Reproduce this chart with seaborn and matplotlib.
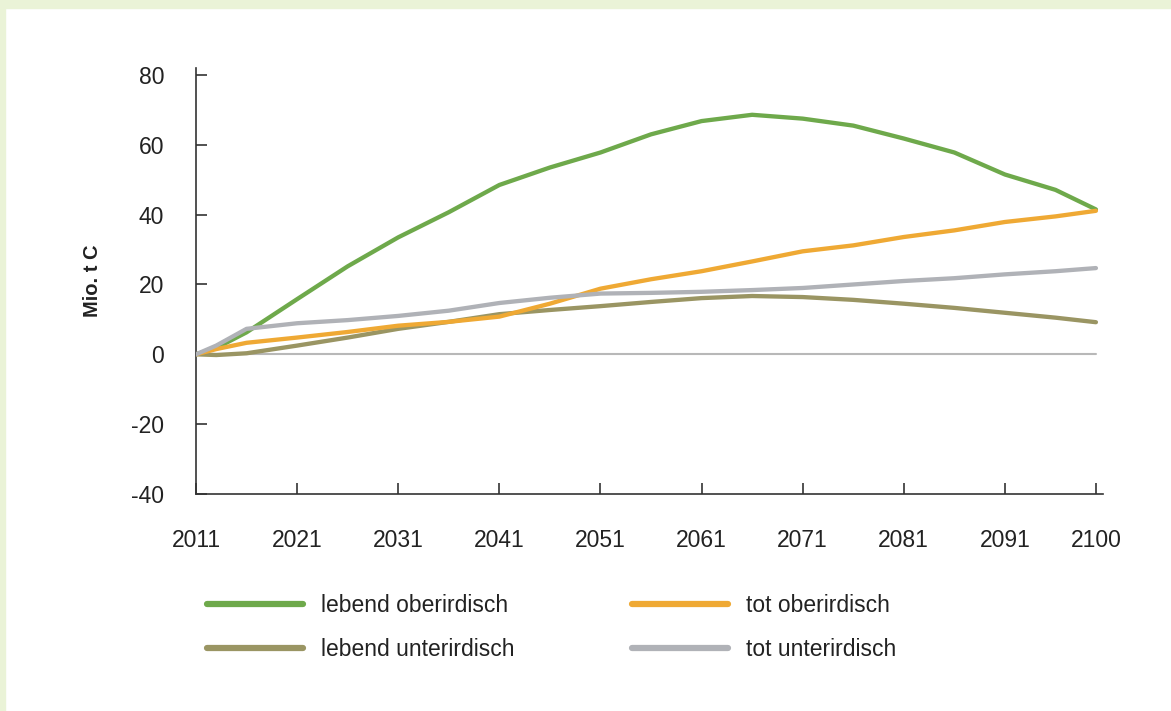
import seaborn as sns
import matplotlib.pyplot as plt
import matplotlib.patches as mpatches
from matplotlib.lines import Line2D
import pandas as pd

# Data (Mio. t C)
years = [2011, 2013, 2016, 2021, 2026, 2031, 2036, 2041, 2046, 2051,
         2056, 2061, 2066, 2071, 2076, 2081, 2086, 2091, 2096, 2100]
lebend_ober = [0, 1.8, 6.3, 15.8, 25.2, 33.5, 40.7, 48.5, 53.5, 57.8,
               63.0, 66.8, 68.6, 67.5, 65.5, 61.8, 57.8, 51.5, 47.1, 41.5]
lebend_unter = [0, -0.2, 0.3, 2.5, 4.8, 7.3, 9.3, 11.5, 12.7, 13.8,
                15.0, 16.1, 16.7, 16.4, 15.6, 14.5, 13.3, 11.9, 10.5, 9.2]
tot_ober = [0, 1.5, 3.3, 4.8, 6.4, 8.2, 9.3, 10.8, 14.5, 18.8,
            21.5, 23.8, 26.6, 29.5, 31.2, 33.6, 35.5, 37.9, 39.5, 41.1]
tot_unter = [0, 2.5, 7.3, 8.9, 9.8, 11.0, 12.5, 14.7, 16.2, 17.4,
             17.6, 17.9, 18.4, 19.0, 20.0, 21.0, 21.8, 22.9, 23.8, 24.7]

series = ['lebend oberirdisch', 'lebend unterirdisch', 'tot oberirdisch', 'tot unterirdisch']
colors = ['#6ea94b', '#9a9563', '#efa934', '#b0b2b7']
xticks = [2011, 2021, 2031, 2041, 2051, 2061, 2071, 2081, 2091, 2100]
yticks = [-40, -20, 0, 20, 40, 60, 80]

df = pd.DataFrame({
    'Jahr': years * 4,
    'Wert': lebend_ober + lebend_unter + tot_ober + tot_unter,
    'Typ': [s for s in series for _ in years],
})

sns.set_style('white')
plt.rcParams['font.family'] = ['Liberation Sans', 'DejaVu Sans']

fig = plt.figure(figsize=(11.71, 7.11), dpi=100)
fig.patch.set_facecolor('white')
# light green frame on top and left
fig.patches.append(mpatches.Rectangle((0, 1 - 8 / 711), 1, 8 / 711, transform=fig.transFigure,
                                      color='#eaf3d7', zorder=0))
fig.patches.append(mpatches.Rectangle((0, 0), 5 / 1171, 1, transform=fig.transFigure,
                                      color='#eaf3d7', zorder=0))

ax = fig.add_axes([196 / 1171, 1 - 494 / 711, (1103 - 196) / 1171, (494 - 68) / 711])
ax.axhline(0, color='#b8b8b8', lw=1.5, zorder=1, xmax=(2100 - 2011) / (2100.7 - 2011))

sns.lineplot(data=df, x='Jahr', y='Wert', hue='Typ', hue_order=series,
             palette=colors, linewidth=3.1, ax=ax, legend=False, zorder=3)

ax.set_xlim(2011, 2100.7)
ax.set_ylim(-40, 82)
ax.set_xticks(xticks)
ax.set_yticks(yticks)
ax.set_xticklabels([str(t) for t in xticks])
ax.set_yticklabels([str(t) for t in yticks])
ax.tick_params(axis='both', direction='in', length=8, width=1.2, color='#333333',
               labelsize=16.5, labelcolor='#222222', bottom=True, left=True)
ax.tick_params(axis='x', pad=25)
ax.tick_params(axis='y', pad=23)
for s in ['top', 'right']:
    ax.spines[s].set_visible(False)
for s in ['left', 'bottom']:
    ax.spines[s].set_color('#333333')
    ax.spines[s].set_linewidth(1.2)
ax.set_xlabel('')
ax.set_ylabel('Mio. t C', fontsize=14.5, fontweight='bold', color='#222222', labelpad=21)

handles = [Line2D([0], [0], color=c, lw=4.5, solid_capstyle='round') for c in colors]
fig.legend(handles, series, loc='upper left', bbox_to_anchor=(196 / 1171, 1 - 583 / 711),
           ncol=2, frameon=False, fontsize=16.5, handlelength=4.15, handletextpad=0.8,
           columnspacing=5.15, labelspacing=0.9, borderpad=0, labelcolor='#222222')

fig.savefig('out.png', dpi=100)
